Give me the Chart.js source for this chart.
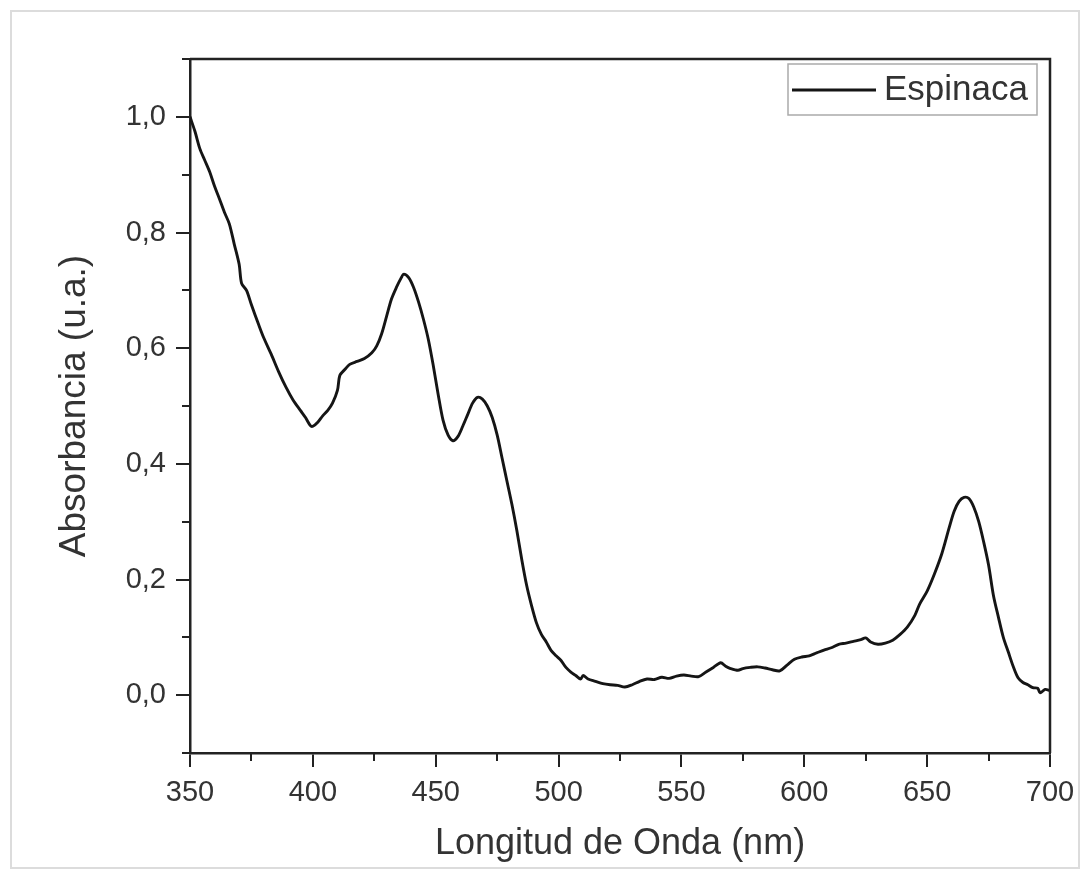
<!DOCTYPE html>
<html>
<head>
<meta charset="utf-8">
<script src="https://cdn.jsdelivr.net/npm/chart.js@4.4.1/dist/chart.umd.min.js"></script>
<style>
  html, body { margin: 0; padding: 0; background: #ffffff; }
  #wrap { position: relative; width: 1089px; height: 877px; }
</style>
</head>
<body>
<div id="wrap"><canvas id="c" width="1089" height="877"></canvas></div>
<script>
const seriesLabel = "Espinaca";
const xTitle = "Longitud de Onda (nm)";
const yTitle = "Absorbancia (u.a.)";

const wavelength = [
  350,352,354,356,358,360,362,364,366,368,370,371,373,375,378,380,383,386,389,392,395,397,399,400,
  402,404,406,408,410,411,413,415,418,421,424,426,428,430,432,434,436,437,439,441,443,445,447,449,
  451,453,455,457,459,461,463,465,467,469,471,473,475,477,479,481,483,485,487,489,491,493,495,497,
  499,501,503,505,507,509,510,512,515,518,521,524,527,530,533,536,539,542,545,548,551,554,557,560,
  563,566,568,570,573,575,578,581,584,587,590,593,596,599,602,605,608,611,614,617,620,623,625,627,
  630,633,636,639,642,645,647,650,653,656,659,661,663,665,667,669,671,673,675,677,679,681,683,685,
  687,689,691,693,695,696,698,700
];
const absorbance = [
  1.000,0.975,0.945,0.925,0.905,0.880,0.858,0.835,0.815,0.780,0.745,0.712,0.700,0.675,0.640,0.618,0.590,0.560,0.533,0.510,0.492,0.480,0.466,0.465,
  0.472,0.483,0.492,0.505,0.527,0.553,0.563,0.572,0.577,0.582,0.592,0.604,0.625,0.655,0.685,0.705,0.722,0.728,0.722,0.705,0.680,0.650,0.615,0.570,
  0.520,0.475,0.450,0.440,0.447,0.465,0.485,0.505,0.515,0.512,0.500,0.480,0.450,0.410,0.370,0.330,0.285,0.235,0.190,0.155,0.125,0.105,0.092,0.077,
  0.068,0.060,0.048,0.040,0.034,0.028,0.034,0.028,0.024,0.020,0.018,0.017,0.014,0.018,0.024,0.028,0.027,0.031,0.029,0.033,0.035,0.033,0.032,0.040,
  0.048,0.056,0.050,0.046,0.043,0.046,0.048,0.049,0.047,0.044,0.042,0.052,0.062,0.066,0.068,0.073,0.078,0.082,0.088,0.090,0.093,0.096,0.099,0.092,
  0.088,0.090,0.095,0.105,0.118,0.138,0.158,0.180,0.210,0.245,0.290,0.318,0.335,0.342,0.340,0.325,0.300,0.265,0.225,0.172,0.135,0.100,0.075,0.050,
  0.030,0.022,0.018,0.013,0.012,0.004,0.010,0.008
];
const xTickValues = [350,400,450,500,550,600,650,700];
const yTickValues = [0.0,0.2,0.4,0.6,0.8,1.0];
const xMinorValues = [375,425,475,525,575,625,675];
const yMinorValues = [-0.1,0.1,0.3,0.5,0.7,0.9,1.1];

const FONT = "'Liberation Sans', Arial, sans-serif";
const TEXT = "#333333";
const AX = "#222222";

const framePlugin = {
  id: 'framePlugin',
  beforeDraw(chart) {
    const ctx = chart.ctx;
    ctx.save();
    ctx.strokeStyle = '#dcdcdc';
    ctx.lineWidth = 2;
    ctx.strokeRect(11, 11, 1068, 857);
    ctx.restore();
  },
  afterDraw(chart) {
    const ctx = chart.ctx;
    const a = chart.chartArea;
    const xs = chart.scales.x, ys = chart.scales.y;
    ctx.save();
    ctx.strokeStyle = AX;
    ctx.lineWidth = 2.5;
    ctx.beginPath();
    ctx.moveTo(a.left, a.top); ctx.lineTo(a.right, a.top); ctx.lineTo(a.right, a.bottom);
    ctx.stroke();
    ctx.lineWidth = 2;
    ctx.beginPath();
    xMinorValues.forEach(v => {
      const p = Math.round(xs.getPixelForValue(v));
      ctx.moveTo(p, a.bottom); ctx.lineTo(p, a.bottom + 8);
    });
    yMinorValues.forEach(v => {
      const p = Math.round(ys.getPixelForValue(v));
      ctx.moveTo(a.left, p); ctx.lineTo(a.left - 8, p);
    });
    ctx.stroke();
    // legend box
    const ds = chart.data.datasets[0];
    const bx = 788, by = 64, bw = 249, bh = 51;
    ctx.strokeStyle = '#aaaaaa';
    ctx.lineWidth = 1.5;
    ctx.strokeRect(bx, by, bw, bh);
    ctx.strokeStyle = ds.borderColor;
    ctx.lineWidth = 2.8;
    ctx.beginPath();
    ctx.moveTo(bx + 4, by + 26); ctx.lineTo(bx + 88, by + 26);
    ctx.stroke();
    ctx.fillStyle = TEXT;
    ctx.font = "35px " + FONT;
    ctx.textBaseline = 'middle';
    ctx.textAlign = 'left';
    ctx.fillText(ds.label, bx + 96, by + 26);
    ctx.restore();
  }
};

const points = wavelength.map((w, i) => ({ x: w, y: absorbance[i] }));

new Chart(document.getElementById('c'), {
  type: 'line',
  data: {
    datasets: [{
      label: seriesLabel,
      data: points,
      borderColor: '#151515',
      borderWidth: 2.9,
      pointRadius: 0,
      tension: 0.3,
      fill: false
    }]
  },
  options: {
    responsive: false,
    animation: false,
    layout: { padding: { top: 59, right: 39, left: 0, bottom: 0 } },
    plugins: { legend: { display: false }, tooltip: { enabled: false } },
    scales: {
      x: {
        type: 'linear',
        min: 350, max: 700,
        afterBuildTicks: s => { s.ticks = xTickValues.map(v => ({ value: v })); },
        afterFit: s => { s.height = 124; },
        grid: { display: true, drawOnChartArea: false, drawTicks: true, tickLength: 14, color: AX, lineWidth: 2 },
        border: { display: true, color: AX, width: 2.5 },
        ticks: { color: TEXT, font: { family: FONT, size: 29 }, padding: 9, maxRotation: 0, callback: v => String(v) },
        title: { display: true, text: xTitle, color: TEXT, font: { family: FONT, size: 36, lineHeight: 1.2 }, padding: { top: 0, bottom: 11 } }
      },
      y: {
        type: 'linear',
        min: -0.1, max: 1.1,
        afterBuildTicks: s => { s.ticks = yTickValues.map(v => ({ value: v })); },
        afterFit: s => { s.width = 190; },
        grid: { display: true, drawOnChartArea: false, drawTicks: true, tickLength: 14, color: AX, lineWidth: 2 },
        border: { display: true, color: AX, width: 2.5 },
        ticks: { color: TEXT, font: { family: FONT, size: 29 }, padding: 10, callback: v => v.toFixed(1).replace('.', ',') },
        title: { display: true, text: yTitle, color: TEXT, font: { family: FONT, size: 37, lineHeight: 1.2 }, padding: { top: 53, bottom: 0 } }
      }
    }
  },
  plugins: [framePlugin]
});
</script>
</body>
</html>
